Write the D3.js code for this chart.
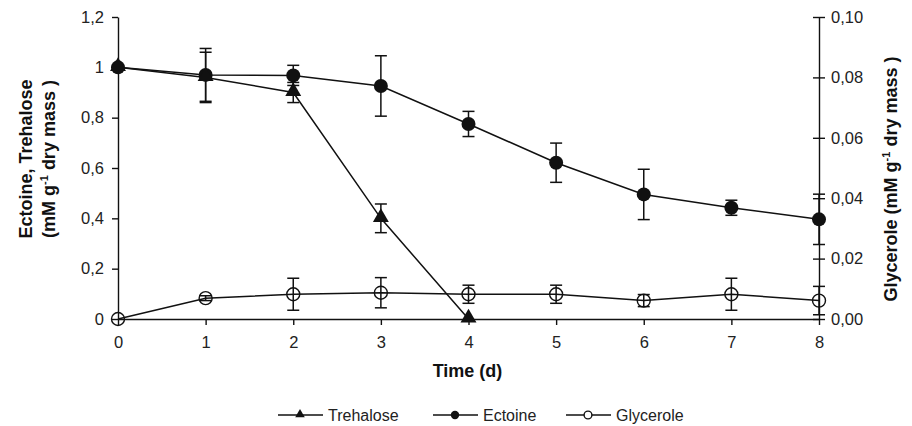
<!DOCTYPE html>
<html>
<head>
<meta charset="utf-8">
<script src="https://cdn.jsdelivr.net/npm/d3@7"></script>
<style>
  body { margin: 0; background: #fff; }
</style>
</head>
<body>
<svg id="chart" width="912" height="426" font-family="'Liberation Sans', Arial, sans-serif"></svg>
<script>
const days = [0, 1, 2, 3, 4, 5, 6, 7, 8];

const trehalose = [1.0, 0.96, 0.90, 0.40, 0.0];
const trehaloseErr = [0, 0.10, 0.04, 0.057, 0];

const ectoine = [1.0, 0.97, 0.968, 0.926, 0.775, 0.621, 0.495, 0.442, 0.396];
const ectoineErr = [0, 0.105, 0.04, 0.12, 0.05, 0.078, 0.10, 0.03, 0.10];

const glycerole = [0.0, 0.0069, 0.0082, 0.0087, 0.0082, 0.0082, 0.0061, 0.0082, 0.0061];
const glyceroleErr = [0, 0.0008, 0.0053, 0.005, 0.003, 0.003, 0.002, 0.0053, 0.0047];

const leftTicks = [0, 0.2, 0.4, 0.6, 0.8, 1.0, 1.2];
const rightTicks = [0, 0.02, 0.04, 0.06, 0.08, 0.10];

const svg = d3.select('#chart');
const margin = {left: 118, right: 93, top: 17, bottom: 107};
const W = 912 - margin.left - margin.right;
const H = 426 - margin.top - margin.bottom;
const ink = '#111';

const x = d3.scaleLinear().domain([0, 8]).range([0, W]);
const yL = d3.scaleLinear().domain([0, 1.2]).range([H, 0]);
const yR = d3.scaleLinear().domain([0, 0.10]).range([H, 0]);

const g = svg.append('g').attr('transform', `translate(${margin.left},${margin.top})`);

const comma = (d, digits) => d3.format('.' + digits + 'f')(d).replace('.', ',');

// axes
const xAxis = g.append('g')
	.attr('transform', `translate(0,${H})`)
	.call(d3.axisBottom(x).tickValues(days).tickSize(6).tickSizeOuter(0).tickPadding(11));

const leftAxis = g.append('g')
	.call(d3.axisLeft(yL).tickValues(leftTicks).tickSize(6).tickSizeOuter(0).tickPadding(8)
		.tickFormat(d => (d === 0 || d === 1) ? String(d) : comma(d, 1)));

const rightAxis = g.append('g')
	.attr('transform', `translate(${W},0)`)
	.call(d3.axisRight(yR).tickValues(rightTicks).tickSize(6).tickSizeOuter(0).tickPadding(6)
		.tickFormat(d => comma(d, 2)));
rightAxis.selectAll('.tick line').attr('x1', -6);

[xAxis, leftAxis, rightAxis].forEach(a => {
	a.attr('font-family', null).attr('font-size', null);
	a.selectAll('path, line').attr('stroke', ink).attr('stroke-width', 1.4);
	a.selectAll('text').attr('font-size', 16.5).attr('fill', '#222');
});

// series helpers
function drawSeries(vals, errs, y, marker) {
	const pts = vals.map((v, i) => ({d: days[i], v, e: errs[i]}));
	g.append('path')
		.datum(pts)
		.attr('fill', 'none')
		.attr('stroke', ink)
		.attr('stroke-width', 1.5)
		.attr('d', d3.line().x(p => x(p.d)).y(p => y(p.v)));

	const eb = g.append('g').attr('stroke', ink).attr('stroke-width', 1.5);
	pts.filter(p => p.e > 0).forEach(p => {
		const cx = x(p.d);
		eb.append('line').attr('x1', cx).attr('x2', cx).attr('y1', y(p.v - p.e)).attr('y2', y(p.v + p.e));
		[p.v - p.e, p.v + p.e].forEach(t => {
			eb.append('line').attr('x1', cx - 6).attr('x2', cx + 6).attr('y1', y(t)).attr('y2', y(t));
		});
	});

	pts.forEach(p => marker(g, x(p.d), y(p.v), 1));
}

function triangle(sel, cx, cy, s) {
	sel.append('path')
		.attr('d', d3.symbol().type(d3.symbolTriangle).size(110 * s * s)())
		.attr('transform', `translate(${cx},${cy - 1 * s})`)
		.attr('fill', ink);
}
function dot(sel, cx, cy, s) {
	sel.append('circle').attr('cx', cx).attr('cy', cy).attr('r', 7 * s).attr('fill', ink);
}
function ring(sel, cx, cy, s) {
	sel.append('circle').attr('cx', cx).attr('cy', cy).attr('r', 6.5 * s)
		.attr('fill', '#fff').attr('fill-opacity', s < 1 ? 1 : 0)
		.attr('stroke', ink).attr('stroke-width', 1.4);
}

drawSeries(glycerole, glyceroleErr, yR, ring);
drawSeries(ectoine, ectoineErr, yL, dot);
drawSeries(trehalose, trehaloseErr, yL, triangle);

// titles
const titleStyle = sel => sel.attr('font-size', 18).attr('font-weight', 'bold').attr('fill', ink);

svg.append('text').call(titleStyle)
	.attr('x', margin.left + W / 2 - 1).attr('y', 377)
	.attr('text-anchor', 'middle').text('Time (d)');

const lt = svg.append('text').call(titleStyle)
	.attr('transform', 'translate(32,159) rotate(-90)')
	.attr('text-anchor', 'middle');
lt.append('tspan').attr('x', 0).attr('dy', 0).text('Ectoine, Trehalose');
const l2 = lt.append('tspan').attr('x', 0).attr('dy', 23);
l2.append('tspan').text('(mM g');
l2.append('tspan').attr('dy', -7).attr('font-size', 11).text('-1');
l2.append('tspan').attr('dy', 7).text(' dry mass )');

const rt = svg.append('text').call(titleStyle)
	.attr('transform', 'translate(897,179) rotate(-90)')
	.attr('text-anchor', 'middle');
rt.append('tspan').text('Glycerole (mM g');
rt.append('tspan').attr('dy', -7).attr('font-size', 11).text('-1');
rt.append('tspan').attr('dy', 7).text(' dry mass )');

// legend
const legendItems = [
	{label: 'Trehalose', x0: 278, marker: triangle},
	{label: 'Ectoine', x0: 433, marker: dot},
	{label: 'Glycerole', x0: 566, marker: ring}
];
const lg = svg.append('g');
legendItems.forEach(it => {
	const ly = 415;
	lg.append('line').attr('x1', it.x0).attr('x2', it.x0 + 45).attr('y1', ly).attr('y2', ly)
		.attr('stroke', ink).attr('stroke-width', 1.5);
	it.marker(lg, it.x0 + 22, ly, 0.6);
	lg.append('text').attr('x', it.x0 + 50).attr('y', ly + 6)
		.attr('font-size', 16).attr('fill', '#222').text(it.label);
});
</script>
</body>
</html>
